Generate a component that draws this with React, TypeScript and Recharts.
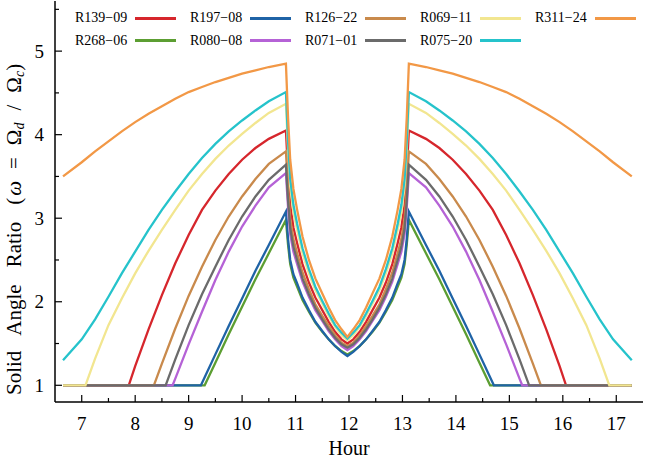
import React from "react";
import { Label, Line, LineChart, XAxis, YAxis } from "recharts";

type Pt = [number, number];

const serif = "Liberation Serif, DejaVu Serif, serif";

// axis ticks (whole hours / whole ratios get a label, the half steps are minor ticks)
const hourTicks = [7, 7.5, 8, 8.5, 9, 9.5, 10, 10.5, 11, 11.5, 12, 12.5, 13, 13.5, 14, 14.5, 15, 15.5, 16, 16.5, 17];
const ratioTicks = [1, 1.5, 2, 2.5, 3, 3.5, 4, 4.5, 5, 5.5];

// [hour, ratio]
const r139_09: Pt[] = [
  [6.65, 1], [7.88, 1], [8, 1.23], [8.25, 1.67], [8.5, 2.08], [8.75, 2.46], [9, 2.8], [9.25, 3.1], [9.5, 3.33], [9.75, 3.53], [10, 3.7], [10.25, 3.84], [10.5, 3.95], [10.82, 4.05],
  [10.86, 3.55], [10.9, 3.16], [10.96, 2.89], [11.03, 2.7], [11.13, 2.45], [11.25, 2.23], [11.37, 2.05], [11.5, 1.9], [11.62, 1.76], [11.74, 1.64], [11.86, 1.55], [11.97, 1.5],
  [12.08, 1.55], [12.2, 1.64], [12.32, 1.76], [12.44, 1.9], [12.57, 2.05], [12.69, 2.23], [12.81, 2.45], [12.91, 2.7], [12.98, 2.89], [13.04, 3.16], [13.08, 3.55], [13.12, 4.05],
  [13.44, 3.95], [13.69, 3.84], [13.94, 3.7], [14.19, 3.53], [14.44, 3.33], [14.69, 3.1], [14.94, 2.8], [15.19, 2.46], [15.44, 2.08], [15.69, 1.67], [15.94, 1.23], [16.06, 1], [17.29, 1],
];

const r268_06: Pt[] = [
  [6.65, 1], [9.3, 1], [9.5, 1.27], [9.75, 1.61], [10, 1.94], [10.25, 2.27], [10.5, 2.58], [10.82, 2.98],
  [10.86, 2.68], [10.9, 2.45], [10.96, 2.29], [11.03, 2.18], [11.13, 2.02], [11.25, 1.88], [11.37, 1.75], [11.5, 1.64], [11.62, 1.55], [11.74, 1.47], [11.86, 1.41], [11.97, 1.37],
  [12.08, 1.41], [12.2, 1.47], [12.32, 1.55], [12.44, 1.64], [12.57, 1.75], [12.69, 1.88], [12.81, 2.02], [12.91, 2.18], [12.98, 2.29], [13.04, 2.45], [13.08, 2.68], [13.12, 2.98],
  [13.44, 2.58], [13.69, 2.27], [13.94, 1.94], [14.19, 1.61], [14.44, 1.27], [14.64, 1], [17.29, 1],
];

const r197_08: Pt[] = [
  [6.65, 1], [9.23, 1], [9.5, 1.37], [9.75, 1.71], [10, 2.04], [10.25, 2.37], [10.5, 2.68], [10.82, 3.08],
  [10.86, 2.75], [10.9, 2.5], [10.96, 2.33], [11.03, 2.22], [11.13, 2.05], [11.25, 1.9], [11.37, 1.76], [11.5, 1.65], [11.62, 1.55], [11.74, 1.47], [11.86, 1.4], [11.97, 1.35],
  [12.08, 1.4], [12.2, 1.47], [12.32, 1.55], [12.44, 1.65], [12.57, 1.76], [12.69, 1.9], [12.81, 2.05], [12.91, 2.22], [12.98, 2.33], [13.04, 2.5], [13.08, 2.75], [13.12, 3.08],
  [13.44, 2.68], [13.69, 2.37], [13.94, 2.04], [14.19, 1.71], [14.44, 1.37], [14.71, 1], [17.29, 1],
];

const r080_08: Pt[] = [
  [6.65, 1], [8.7, 1], [8.75, 1.08], [9, 1.49], [9.25, 1.88], [9.5, 2.26], [9.75, 2.6], [10, 2.9], [10.25, 3.15], [10.5, 3.37], [10.82, 3.54],
  [10.86, 3.13], [10.9, 2.81], [10.96, 2.6], [11.03, 2.45], [11.13, 2.24], [11.25, 2.06], [11.37, 1.9], [11.5, 1.77], [11.62, 1.65], [11.74, 1.55], [11.86, 1.47], [11.97, 1.42],
  [12.08, 1.47], [12.2, 1.55], [12.32, 1.65], [12.44, 1.77], [12.57, 1.9], [12.69, 2.06], [12.81, 2.24], [12.91, 2.45], [12.98, 2.6], [13.04, 2.81], [13.08, 3.13], [13.12, 3.54],
  [13.44, 3.37], [13.69, 3.15], [13.94, 2.9], [14.19, 2.6], [14.44, 2.26], [14.69, 1.88], [14.94, 1.49], [15.19, 1.08], [15.24, 1], [17.29, 1],
];

const r126_22: Pt[] = [
  [6.65, 1], [8.35, 1], [8.5, 1.26], [8.75, 1.68], [9, 2.07], [9.25, 2.42], [9.5, 2.74], [9.75, 3.02], [10, 3.26], [10.25, 3.47], [10.5, 3.65], [10.82, 3.8],
  [10.86, 3.34], [10.9, 2.99], [10.96, 2.75], [11.03, 2.58], [11.13, 2.35], [11.25, 2.15], [11.37, 1.97], [11.5, 1.83], [11.62, 1.71], [11.74, 1.6], [11.86, 1.51], [11.97, 1.47],
  [12.08, 1.51], [12.2, 1.6], [12.32, 1.71], [12.44, 1.83], [12.57, 1.97], [12.69, 2.15], [12.81, 2.35], [12.91, 2.58], [12.98, 2.75], [13.04, 2.99], [13.08, 3.34], [13.12, 3.8],
  [13.44, 3.65], [13.69, 3.47], [13.94, 3.26], [14.19, 3.02], [14.44, 2.74], [14.69, 2.42], [14.94, 2.07], [15.19, 1.68], [15.44, 1.26], [15.59, 1], [17.29, 1],
];

const r071_01: Pt[] = [
  [6.65, 1], [8.57, 1], [8.75, 1.31], [9, 1.72], [9.25, 2.09], [9.5, 2.42], [9.75, 2.74], [10, 3.02], [10.25, 3.26], [10.5, 3.46], [10.82, 3.64],
  [10.86, 3.21], [10.9, 2.88], [10.96, 2.66], [11.03, 2.5], [11.13, 2.28], [11.25, 2.09], [11.37, 1.93], [11.5, 1.79], [11.62, 1.67], [11.74, 1.57], [11.86, 1.49], [11.97, 1.45],
  [12.08, 1.49], [12.2, 1.57], [12.32, 1.67], [12.44, 1.79], [12.57, 1.93], [12.69, 2.09], [12.81, 2.28], [12.91, 2.5], [12.98, 2.66], [13.04, 2.88], [13.08, 3.21], [13.12, 3.64],
  [13.44, 3.46], [13.69, 3.26], [13.94, 3.02], [14.19, 2.74], [14.44, 2.42], [14.69, 2.09], [14.94, 1.72], [15.19, 1.31], [15.37, 1], [17.29, 1],
];

const r069_11: Pt[] = [
  [6.65, 1], [7.07, 1], [7.25, 1.32], [7.5, 1.72], [7.75, 2.04], [8, 2.34], [8.25, 2.61], [8.5, 2.86], [8.75, 3.1], [9, 3.33], [9.25, 3.53], [9.5, 3.71], [9.75, 3.87], [10, 4.01], [10.25, 4.14], [10.5, 4.26], [10.82, 4.37],
  [10.86, 3.81], [10.9, 3.38], [10.96, 3.07], [11.03, 2.86], [11.13, 2.58], [11.25, 2.34], [11.37, 2.14], [11.5, 1.98], [11.62, 1.83], [11.74, 1.7], [11.86, 1.6], [11.97, 1.54],
  [12.08, 1.6], [12.2, 1.7], [12.32, 1.83], [12.44, 1.98], [12.57, 2.14], [12.69, 2.34], [12.81, 2.58], [12.91, 2.86], [12.98, 3.07], [13.04, 3.38], [13.08, 3.81], [13.12, 4.37],
  [13.44, 4.26], [13.69, 4.14], [13.94, 4.01], [14.19, 3.87], [14.44, 3.71], [14.69, 3.53], [14.94, 3.33], [15.19, 3.1], [15.44, 2.86], [15.69, 2.61], [15.94, 2.34], [16.19, 2.04], [16.44, 1.72], [16.69, 1.32], [16.87, 1], [17.29, 1],
];

const r075_20: Pt[] = [
  [6.65, 1.3], [7, 1.55], [7.25, 1.79], [7.5, 2.06], [7.75, 2.34], [8, 2.6], [8.25, 2.86], [8.5, 3.1], [8.75, 3.32], [9, 3.53], [9.25, 3.72], [9.5, 3.89], [9.75, 4.04], [10, 4.17], [10.25, 4.29], [10.5, 4.4], [10.82, 4.51],
  [10.86, 3.92], [10.9, 3.47], [10.96, 3.16], [11.03, 2.93], [11.13, 2.64], [11.25, 2.39], [11.37, 2.18], [11.5, 2.01], [11.62, 1.86], [11.74, 1.72], [11.86, 1.63], [11.97, 1.56],
  [12.08, 1.63], [12.2, 1.72], [12.32, 1.86], [12.44, 2.01], [12.57, 2.18], [12.69, 2.39], [12.81, 2.64], [12.91, 2.93], [12.98, 3.16], [13.04, 3.47], [13.08, 3.92], [13.12, 4.51],
  [13.44, 4.4], [13.69, 4.29], [13.94, 4.17], [14.19, 4.04], [14.44, 3.89], [14.69, 3.72], [14.94, 3.53], [15.19, 3.32], [15.44, 3.1], [15.69, 2.86], [15.94, 2.6], [16.19, 2.34], [16.44, 2.06], [16.69, 1.79], [16.94, 1.55], [17.29, 1.3],
];

const r311_24: Pt[] = [
  [6.65, 3.5], [7, 3.67], [7.25, 3.8], [7.5, 3.92], [7.75, 4.04], [8, 4.15], [8.25, 4.25], [8.5, 4.34], [8.75, 4.43], [9, 4.51], [9.25, 4.57], [9.5, 4.63], [9.75, 4.68], [10, 4.73], [10.25, 4.77], [10.5, 4.81], [10.82, 4.85],
  [10.86, 4.2], [10.9, 3.7], [10.96, 3.35], [11.03, 3.1], [11.13, 2.78], [11.25, 2.5], [11.37, 2.28], [11.5, 2.1], [11.62, 1.93], [11.74, 1.78], [11.86, 1.67], [11.97, 1.58],
  [12.08, 1.67], [12.2, 1.78], [12.32, 1.93], [12.44, 2.1], [12.57, 2.28], [12.69, 2.5], [12.81, 2.78], [12.91, 3.1], [12.98, 3.35], [13.04, 3.7], [13.08, 4.2], [13.12, 4.85],
  [13.44, 4.81], [13.69, 4.77], [13.94, 4.73], [14.19, 4.68], [14.44, 4.63], [14.69, 4.57], [14.94, 4.51], [15.19, 4.43], [15.44, 4.34], [15.69, 4.25], [15.94, 4.15], [16.19, 4.04], [16.44, 3.92], [16.69, 3.8], [16.94, 3.67], [17.29, 3.5],
];

// drawing order (later ones sit on top)
const series = [
  { name: "R139−09", color: "#d6262c", data: r139_09 },
  { name: "R268−06", color: "#5c9e32", data: r268_06 },
  { name: "R197−08", color: "#1f63a6", data: r197_08 },
  { name: "R080−08", color: "#b562d6", data: r080_08 },
  { name: "R126−22", color: "#c98a4c", data: r126_22 },
  { name: "R071−01", color: "#6b6b6b", data: r071_01 },
  { name: "R069−11", color: "#f2e690", data: r069_11 },
  { name: "R075−20", color: "#25c3cb", data: r075_20 },
  { name: "R311−24", color: "#f29846", data: r311_24 },
];

// legend, row by row
const legendOrder = [
  "R139−09", "R197−08", "R126−22", "R069−11", "R311−24",
  "R268−06", "R080−08", "R071−01", "R075−20",
];

const tickLen = (v: number) => (Number.isInteger(v) ? 7 : 4);

const BottomTick = (p: any) => {
  const v = p.payload.value;
  return (
    <g>
      <line x1={p.x} x2={p.x} y1={p.y} y2={p.y - tickLen(v)} stroke="#000" strokeWidth={1.2} />
      {Number.isInteger(v) && (
        <text x={p.x} y={p.y + 21} dy="0.35em" textAnchor="middle" fontSize={19} fontFamily={serif} fill="#000">
          {v}
        </text>
      )}
    </g>
  );
};

const TopTick = (p: any) => (
  <line x1={p.x} x2={p.x} y1={p.y} y2={p.y + tickLen(p.payload.value)} stroke="#000" strokeWidth={1.2} />
);

const LeftTick = (p: any) => {
  const v = p.payload.value;
  return (
    <g>
      <line x1={p.x} x2={p.x + tickLen(v)} y1={p.y} y2={p.y} stroke="#000" strokeWidth={1.2} />
      {Number.isInteger(v) && (
        <text x={p.x - 11} y={p.y} dy="0.35em" textAnchor="end" fontSize={19} fontFamily={serif} fill="#000">
          {v}
        </text>
      )}
    </g>
  );
};

const RightTick = (p: any) => (
  <line x1={p.x} x2={p.x - tickLen(p.payload.value)} y1={p.y} y2={p.y} stroke="#000" strokeWidth={1.2} />
);

const YTitle = (props: any) => {
  const vb = props.viewBox;
  const x = vb.x + 4;
  const y = vb.y + vb.height - 7;
  const sub = { fontSize: 14, fontStyle: "italic" as const };
  return (
    <text
      transform={`translate(${x}, ${y}) rotate(-90)`}
      textAnchor="start"
      dominantBaseline="central"
      fontSize={21}
      fill="#000"
      style={{ fontFamily: serif }}
    >
      <tspan>Solid</tspan>
      <tspan dx={15}>Angle</tspan>
      <tspan dx={17}>Ratio</tspan>
      <tspan dx={17}>(</tspan>
      <tspan dx={2} fontStyle="italic">ω</tspan>
      <tspan dx={12}>=</tspan>
      <tspan dx={12}>Ω</tspan>
      <tspan dy={5} {...sub}>d</tspan>
      <tspan dy={-5} dx={12}>/</tspan>
      <tspan dx={12}>Ω</tspan>
      <tspan dy={5} {...sub}>c</tspan>
      <tspan dy={-5}>)</tspan>
    </text>
  );
};

const XTitle = (props: any) => {
  const vb = props.viewBox;
  return (
    <text x={vb.x + vb.width / 2} y={vb.y + 46} dy="0.35em" textAnchor="middle" fontSize={20} fill="#000" style={{ fontFamily: serif }}>
      Hour
    </text>
  );
};

const axisLine = { stroke: "#000", strokeWidth: 1.5 };

const App = () => {
  return (
    <div style={{ position: "absolute", left: 0, top: 0, width: 645, height: 462, background: "#fff", fontFamily: serif }}>
      <LineChart width={645} height={462} margin={{ top: 1, right: 2, bottom: 30, left: 10 }} style={{ fontFamily: serif }}>
        <XAxis
          xAxisId="bottom"
          type="number"
          dataKey="h"
          domain={[6.5, 17.5]}
          allowDataOverflow
          ticks={hourTicks}
          interval={0}
          height={30}
          tickSize={0}
          tickMargin={0}
          tickLine={false}
          axisLine={axisLine}
          tick={BottomTick}
        >
          <Label content={XTitle} />
        </XAxis>
        <XAxis
          xAxisId="top"
          orientation="top"
          type="number"
          dataKey="h"
          domain={[6.5, 17.5]}
          allowDataOverflow
          ticks={hourTicks}
          interval={0}
          height={0}
          tickSize={0}
          tickMargin={0}
          tickLine={false}
          axisLine={axisLine}
          tick={TopTick}
        />
        <YAxis
          yAxisId="left"
          type="number"
          domain={[0.8, 5.6]}
          allowDataOverflow
          ticks={ratioTicks}
          interval={0}
          width={45}
          tickSize={0}
          tickMargin={0}
          tickLine={false}
          axisLine={axisLine}
          tick={LeftTick}
        >
          <Label content={YTitle} />
        </YAxis>
        <YAxis
          yAxisId="right"
          orientation="right"
          type="number"
          domain={[0.8, 5.6]}
          allowDataOverflow
          ticks={ratioTicks}
          interval={0}
          width={0}
          tickSize={0}
          tickMargin={0}
          tickLine={false}
          axisLine={axisLine}
          tick={RightTick}
        />
        {series.map((s) => (
          <Line
            key={s.name}
            xAxisId="bottom"
            yAxisId="left"
            data={s.data.map(([h, v]) => ({ h, v }))}
            dataKey="v"
            name={s.name}
            type="linear"
            stroke={s.color}
            strokeWidth={2.3}
            dot={false}
            isAnimationActive={false}
          />
        ))}
      </LineChart>
      <div
        style={{
          position: "absolute",
          left: 75,
          top: 7,
          display: "grid",
          gridTemplateColumns: "repeat(5, 115px)",
          gridAutoRows: "22.5px",
          fontSize: 14,
          pointerEvents: "none",
        }}
      >
        {legendOrder.map((n) => {
          const s = series.find((q) => q.name === n)!;
          return (
            <div key={n} style={{ display: "flex", alignItems: "center" }}>
              <span style={{ width: 60, whiteSpace: "nowrap" }}>{n}</span>
              <span style={{ width: 41, height: 3, background: s.color, display: "inline-block" }} />
            </div>
          );
        })}
      </div>
    </div>
  );
};

export default App;
